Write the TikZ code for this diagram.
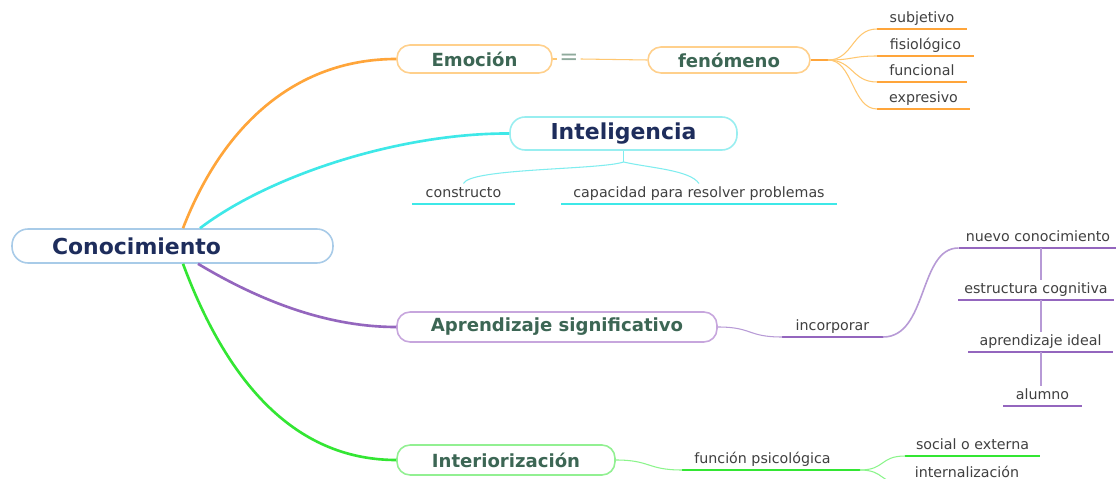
\documentclass[tikz,border=0pt]{standalone}
\usepackage{fontspec}
\setmainfont{DejaVu Sans}

\definecolor{rootline}{HTML}{A8CBE8}
\definecolor{navytext}{HTML}{1E2D5C}
\definecolor{topictext}{HTML}{3C6654}
\definecolor{leaftext}{HTML}{404040}
\definecolor{eqgray}{HTML}{8FAA9C}
\definecolor{orangeline}{HTML}{FFA53A}
\definecolor{orangebox}{HTML}{FFD08C}
\definecolor{orangetwig}{HTML}{FFC770}
\definecolor{cyanline}{HTML}{3EE8E8}
\definecolor{cyanbox}{HTML}{98EEF0}
\definecolor{cyantwig}{HTML}{7FEDEF}
\definecolor{purpleline}{HTML}{9466BE}
\definecolor{purplebox}{HTML}{C7A6DD}
\definecolor{purpletwig}{HTML}{B79AD6}
\definecolor{greenline}{HTML}{33E633}
\definecolor{greenbox}{HTML}{92F092}
\definecolor{greentwig}{HTML}{8BF58B}

\begin{document}
\begin{tikzpicture}[x=0.02cm,y=-0.02cm,
  topic/.style={draw=#1,line width=0.9pt,rounded corners=0.26cm,fill=white,
    font=\bfseries\fontsize{10.3}{12}\selectfont,text=topictext,inner sep=0pt},
  leaf/.style 2 args={font=\fontsize{8.1}{10}\selectfont,text=leaftext,
    minimum width=#2,inner sep=0.07cm,outer sep=0pt,text height=0.21cm,text depth=0.06cm,
    anchor=south,
    append after command={(\tikzlastnode.south west) edge[draw=#1,line width=0.05cm] (\tikzlastnode.south east)}},
  branch/.style={draw=#1,line width=1.5pt},
  twig/.style={draw=#1,line width=0.6pt}]
\fill[white] (0,0) rectangle (1116,479);
\path[use as bounding box,clip] (0,0) rectangle (1116,479);

% central topic
\node[topic=rootline,minimum width=6.42cm,minimum height=0.68cm,text width=4.82cm,
  inner xsep=0.8cm,align=left,text=navytext,font=\bfseries\fontsize{12.5}{14}\selectfont,
  rounded corners=0.32cm] (root) at (172.5,246) {Conocimiento};

% Emocion
\node[topic=orangebox,minimum width=3.1cm,minimum height=0.56cm] (emo) at (474.5,59) {Emoción};
\node[text=eqgray,font=\fontsize{13}{13}\selectfont,inner sep=1pt] (eq) at (569,59) {=};
\node[topic=orangebox,minimum width=3.24cm,minimum height=0.52cm] (fen) at (729,60) {fenómeno};
\node[leaf={orangeline}{1.8cm}] (sub) at (922,29) {subjetivo};
\node[leaf={orangeline}{1.94cm}] (fis) at (925.5,56) {fisiológico};
\node[leaf={orangeline}{1.8cm}] (fun) at (922,82) {funcional};
\node[leaf={orangeline}{1.86cm}] (exp) at (923.5,109) {expresivo};

% Inteligencia
\node[topic=cyanbox,minimum width=4.54cm,minimum height=0.66cm,text=navytext,
  font=\bfseries\fontsize{12.5}{14}\selectfont,rounded corners=0.3cm] (int) at (623.5,133.5) {Inteligencia};
\node[leaf={cyanline}{2.06cm}] (con) at (463.5,204) {constructo};
\node[leaf={cyanline}{5.52cm}] (cap) at (699,204) {capacidad para resolver problemas};

% Aprendizaje
\node[topic=purplebox,minimum width=6.4cm,minimum height=0.6cm] (apr) at (557,327) {Aprendizaje significativo};
\node[leaf={purpleline}{2.02cm}] (inc) at (832.5,337) {incorporar};
\node[leaf={purpleline}{3.18cm}] (nc) at (1038,248) {nuevo conocimiento};
\node[leaf={purpleline}{3.12cm}] (ec) at (1036,300) {estructura cognitiva};
\node[leaf={purpleline}{2.9cm}] (ai) at (1040.5,352) {aprendizaje ideal};
\node[leaf={purpleline}{1.58cm}] (al) at (1042.5,406) {alumno};

% Interiorizacion
\node[topic=greenbox,minimum width=4.36cm,minimum height=0.6cm] (inter) at (506,460) {Interiorización};
\node[leaf={greenline}{3.22cm}] (fp) at (762.5,470) {función psicológica};
\node[leaf={greenline}{2.7cm}] (soc) at (972.5,456) {social o externa};
\node[leaf={greenline}{2.5cm}] (inl) at (967,484) {internalización};

% main branches
\draw[branch=orangeline] ([xshift=0.21cm]root.north) .. controls (225,120) and (300,59) .. (emo.west);
\draw[branch=cyanline] ([xshift=0.55cm]root.north) .. controls (270,175) and (400,133) .. (int.west);
\draw[branch=purpleline] ([xshift=0.51cm]root.south) .. controls (250,295) and (320,327) .. (apr.west);
\draw[branch=greenline] ([xshift=0.21cm]root.south) .. controls (230,390) and (300,460) .. (inter.west);

% sub branches
\draw[twig=orangetwig] (emo.east) -- (eq.west);
\draw[twig=orangetwig] (eq.east) -- (fen.west);
\coordinate (fj) at (828,60);
\draw[branch=orangeline] (fen.east) -- (fj);
\foreach \n in {sub,fis,fun,exp}
  \draw[twig=orangetwig] (fj) .. controls +(25,0) and +(-25,0) .. (\n.south west);

\coordinate (ij) at (623.5,162);
\draw[twig=cyantwig] (int.south) -- (ij);
\draw[twig=cyantwig] (ij) .. controls (600,170) and (470,168) .. (con.north);
\draw[twig=cyantwig] (ij) .. controls (650,168) and (690,170) .. (cap.north);

\draw[twig=purpletwig] (apr.east) .. controls +(35,0) and +(-35,0) .. (inc.south west);
\draw[twig=purpletwig,line width=0.9pt] (inc.south east) .. controls +(45,0) and +(-40,0) .. (nc.south west);
\coordinate (stem) at (1041,0);
\draw[twig=purpletwig,line width=1.2pt] (nc.south -| stem) -- (ec.north -| stem);
\draw[twig=purpletwig,line width=1.2pt] (ec.south -| stem) -- (ai.north -| stem);
\draw[twig=purpletwig,line width=1.2pt] (ai.south -| stem) -- (al.north -| stem);

\draw[twig=greentwig] (inter.east) .. controls +(35,0) and +(-35,0) .. (fp.south west);
\coordinate (gj) at (860,470);
\draw[branch=greenline] (fp.south east) -- (gj);
\draw[twig=greentwig] (gj) .. controls +(25,0) and +(-25,0) .. (soc.south west);
\draw[twig=greentwig] (gj) .. controls +(25,0) and +(-25,0) .. (inl.south west);
\end{tikzpicture}
\end{document}
